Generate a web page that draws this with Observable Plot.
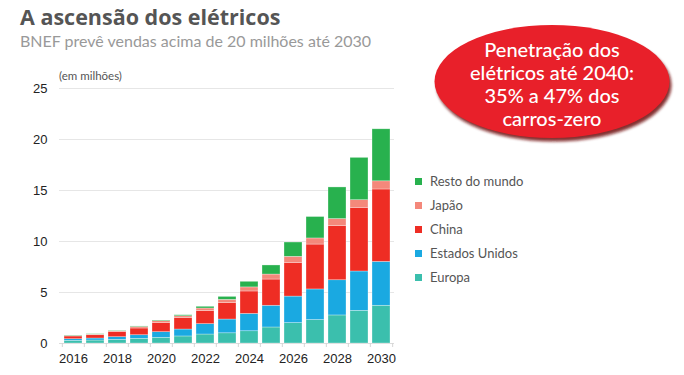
<!DOCTYPE html>
<html>
<head>
<meta charset="utf-8">
<script src="https://cdn.jsdelivr.net/npm/d3@7"></script>
<script src="https://cdn.jsdelivr.net/npm/@observablehq/plot@0.6"></script>
<style>
  body { margin: 0; background: #fff; }
  #wrap { position: relative; width: 684px; height: 375px; overflow: hidden; font-family: Lato, "Open Sans", sans-serif; }
  #chart { position: absolute; left: 0; top: 0; }
  .title { position: absolute; left: 20px; top: 2px; font-size: 21.5px; font-weight: 700; color: #555; white-space: nowrap; font-family: "Open Sans", sans-serif; }
  .subtitle { position: absolute; left: 20px; top: 31px; font-size: 16px; color: #999; white-space: nowrap; }
  .unit { position: absolute; left: 59px; top: 69px; font-size: 11.5px; color: #555; white-space: nowrap; }
  .legend { position: absolute; left: 415px; top: 171px; font-size: 13px; color: #555; }
  .legend div { height: 24px; line-height: 20px; white-space: nowrap; }
  .legend span.sw { display: inline-block; width: 7px; height: 7px; margin-right: 8px; vertical-align: 1px; }
  #bubble { position: absolute; left: 430px; top: 20px; }
  .btext { position: absolute; left: 437px; top: 38px; width: 230px; text-align: center; color: #fff; font-size: 20px; line-height: 23px; font-family: Lato, sans-serif; font-weight: 500; }
</style>
</head>
<body>
<div id="wrap">
  <div id="chart"></div>
  <div class="title">A ascensão dos elétricos</div>
  <div class="subtitle">BNEF prevê vendas acima de 20 milhões até 2030</div>
  <div class="unit">(em milhões)</div>
  <div class="legend" id="legend"></div>
  <svg id="bubble" width="254" height="130">
    <defs>
      <filter id="sh" x="-10%" y="-10%" width="120%" height="130%">
        <feGaussianBlur stdDeviation="1.5"/>
      </filter>
    </defs>
    <ellipse cx="124" cy="65" rx="117.5" ry="56.5" fill="#6e0f0f" opacity="0.85" filter="url(#sh)"/>
    <ellipse cx="122" cy="61.5" rx="117.5" ry="56.5" fill="#e8202a"/>
  </svg>
  <div class="btext">Penetração dos<br>elétricos até 2040:<br>35% a 47% dos<br>carros-zero</div>
</div>
<script>
const years = [2016, 2017, 2018, 2019, 2020, 2021, 2022, 2023, 2024, 2025, 2026, 2027, 2028, 2029, 2030];
const europa = [0.26, 0.29, 0.36, 0.46, 0.56, 0.69, 0.88, 1.0, 1.2, 1.57, 2.0, 2.3, 2.75, 3.2, 3.7];
const estadosUnidos = [0.16, 0.2, 0.26, 0.35, 0.55, 0.68, 1.02, 1.35, 1.7, 2.13, 2.6, 3.0, 3.45, 3.86, 4.3];
const china = [0.27, 0.32, 0.49, 0.66, 0.88, 1.11, 1.27, 1.6, 2.2, 2.57, 3.3, 4.4, 5.3, 6.24, 7.1];
const japao = [0.05, 0.06, 0.09, 0.15, 0.2, 0.19, 0.26, 0.33, 0.4, 0.49, 0.6, 0.6, 0.7, 0.75, 0.8];
const resto = [0.04, 0.04, 0.05, 0.05, 0.06, 0.1, 0.17, 0.29, 0.55, 0.89, 1.4, 2.1, 3.1, 4.15, 5.1];
const regions = ["Europa", "Estados Unidos", "China", "Japão", "Resto do mundo"];
const colors = ["#3bbfad", "#1aa9e1", "#ee2d24", "#f4887b", "#28b14e"];
const yTicks = [0, 5, 10, 15, 20, 25];
const xLabels = [2016, 2018, 2020, 2022, 2024, 2026, 2028, 2030];

const series = [europa, estadosUnidos, china, japao, resto];
const data = [];
years.forEach((yr, i) => series.forEach((s, j) => data.push({year: yr, region: regions[j], value: s[i]})));

const W = 684, H = 375, mL = 59, mR = 290;
const step = (W - mL - mR) / years.length;

const chart = Plot.plot({
  width: W, height: H,
  marginLeft: mL, marginRight: mR, marginTop: 88, marginBottom: 32,
  style: {fontFamily: "'Liberation Sans', Arial, sans-serif", fontSize: "13px", color: "#222", background: "transparent"},
  x: {type: "band", domain: years, padding: 0.2, paddingOuter: 0.1, align: 0.5},
  y: {domain: [0, 25]},
  color: {domain: regions, range: colors},
  marks: [
    Plot.gridY(yTicks, {stroke: "#e6e6e6", strokeOpacity: 1}),
    Plot.ruleY([0], {stroke: "#dcdcdc"}),
    Plot.axisY(yTicks, {tickSize: 0, tickPadding: 12, label: null, fill: "#222", fontSize: 13}),
    Plot.axisX(xLabels, {tickSize: 0, tickPadding: 10, label: null, fill: "#222", fontSize: 13, tickFormat: d => String(d)}),
    Plot.axisX(years, {tickSize: 4, text: null, label: null, stroke: "#d5d5d5", dx: -step / 2}),
    Plot.axisX([years[years.length - 1]], {tickSize: 4, text: null, label: null, stroke: "#d5d5d5", dx: step / 2}),
    Plot.barY(data, Plot.stackY({x: "year", y: "value", fill: "region", order: regions, stroke: "#ffffff", strokeWidth: 0.6, strokeOpacity: 0.5}))
  ]
});
document.getElementById("chart").appendChild(chart);

const leg = document.getElementById("legend");
for (let j = regions.length - 1; j >= 0; j--) {
  const row = document.createElement("div");
  row.innerHTML = `<span class="sw" style="background:${colors[j]}"></span>${regions[j]}`;
  leg.appendChild(row);
}
</script>
</body>
</html>
